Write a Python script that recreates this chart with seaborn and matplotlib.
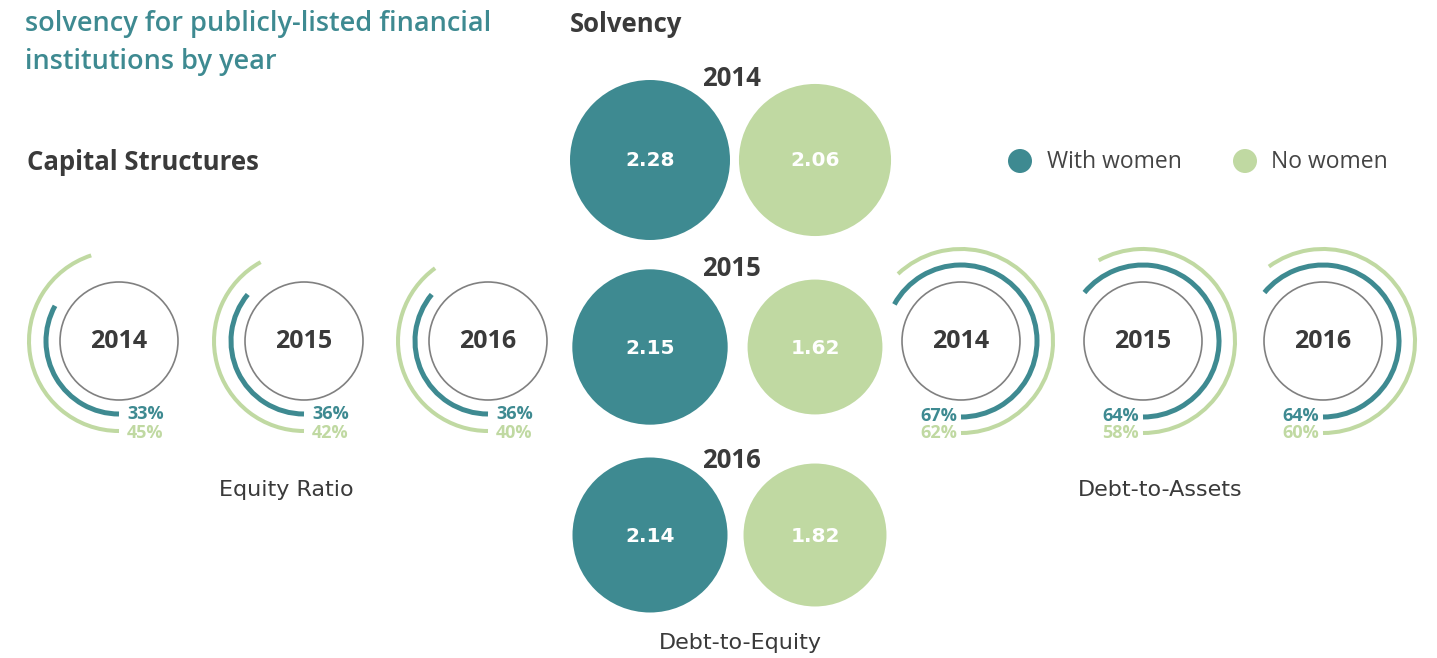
import numpy as np
import pandas as pd
import matplotlib
matplotlib.use("Agg")
import matplotlib.pyplot as plt
from matplotlib.patches import Arc, Circle
import seaborn as sns

# ---------------- data ----------------
years = ["2014", "2015", "2016"]
equity_with = [33, 36, 36]
equity_no = [45, 42, 40]
dta_with = [67, 64, 64]
dta_no = [62, 58, 60]
dte_with = [2.28, 2.15, 2.14]
dte_no = [2.06, 1.62, 1.82]
groups = ["With women", "No women"]

TEAL = "#3e8a91"
GREEN = "#c0d9a2"
DARK = "#3a3a3a"
GREY = "#808080"

sns.set_theme(style="white")
plt.rcParams["font.family"] = ["Open Sans", "DejaVu Sans"]
WIDE = ["DejaVu Sans"]

W, H = 1437, 658
fig = plt.figure(figsize=(W / 100, H / 100), dpi=100)
ax = fig.add_axes([0, 0, 1, 1])
ax.set_xlim(0, W)
ax.set_ylim(H, 0)
ax.axis("off")

# ---------------- titles ----------------
ax.text(25, 24, "solvency for publicly-listed financial", color=TEAL, fontsize=19.5,
        fontweight="semibold", va="center", ha="left")
ax.text(25, 62, "institutions by year", color=TEAL, fontsize=19.5,
        fontweight="semibold", va="center", ha="left")
ax.text(570, 24, "Solvency", color=DARK, fontsize=18.5, fontweight="bold", va="center")
ax.text(27, 163, "Capital Structures", color=DARK, fontsize=18.5, fontweight="bold", va="center")

# ---------------- legend ----------------
leg = pd.DataFrame({"x": [1020, 1245], "y": [161, 161], "g": groups})
sns.scatterplot(data=leg, x="x", y="y", hue="g", palette=[TEAL, GREEN], s=(24 * 0.72) ** 2,
                linewidth=0, legend=False, ax=ax, zorder=3)
ax.text(1047, 162, "With women", color="#444444", fontsize=16.5, va="center")
ax.text(1271, 162, "No women", color="#444444", fontsize=16.5, va="center")

# ---------------- rings ----------------
def ring(cx, cy, year, v_with, v_no, r_in, r_out, clockwise):
    ax.add_patch(Circle((cx, cy), 59, fill=False, edgecolor=GREY, lw=1.2))
    ax.text(cx, cy + 1, year, ha="center", va="center", color=DARK, fontsize=18, fontweight="bold")
    for v, r, col, lw in [(v_with, r_in, TEAL, 3.6), (v_no, r_out, GREEN, 2.9)]:
        span = 360 * v / 100
        # y axis is inverted: screen-clockwise equals increasing data angle
        if clockwise:
            t1, t2 = 90, 90 + span
        else:
            t1, t2 = 90 - span, 90
        ax.add_patch(Arc((cx, cy), 2 * r, 2 * r, theta1=t1, theta2=t2, color=col, lw=lw))
    if clockwise:
        ax.text(cx + 8, cy + r_in, f"{v_with}%", color=TEAL, fontsize=13, fontweight="bold",
                ha="left", va="center")
        ax.text(cx + 8, cy + r_out + 2, f"{v_no}%", color=GREEN, fontsize=13, fontweight="bold",
                ha="left", va="center")
    else:
        ax.text(cx - 4, cy + r_in - 1, f"{v_with}%", color=TEAL, fontsize=13, fontweight="bold",
                ha="right", va="center")
        ax.text(cx - 4, cy + r_out, f"{v_no}%", color=GREEN, fontsize=13, fontweight="bold",
                ha="right", va="center")

for cx, y, a, b in zip([119, 304, 488], years, equity_with, equity_no):
    ring(cx, 341, y, a, b, 73, 90, True)
for cx, y, a, b in zip([961, 1143, 1323], years, dta_with, dta_no):
    ring(cx, 341, y, a, b, 76, 92, False)

for txt, x, y in [("Equity Ratio", 286, 490), ("Debt-to-Assets", 1160, 490),
                  ("Debt-to-Equity", 740, 643)]:
    ax.text(x, y, txt, color=DARK, fontsize=16, ha="center", va="center", family=WIDE)

# ---------------- bubbles (area proportional to value) ----------------
rows_y = [160, 347, 535]
bub = pd.DataFrame({
    "x": [650] * 3 + [815] * 3,
    "y": rows_y * 2,
    "v": dte_with + dte_no,
    "g": [groups[0]] * 3 + [groups[1]] * 3,
})
r_max = 80.0
vmax = max(dte_with + dte_no)
# marker area in pt^2: diameter (px) * 0.72 squared
s_max = (2 * r_max * 0.72) ** 2
sns.scatterplot(data=bub, x="x", y="y", hue="g", palette=[TEAL, GREEN], size="v",
                sizes=(0, s_max), size_norm=(0, vmax), linewidth=0, legend=False, ax=ax)
for _, rw in bub.iterrows():
    ax.text(rw.x, rw.y + 1, f"{rw.v:.2f}", color="white", fontsize=14.5, fontweight="bold",
            ha="center", va="center", family=WIDE)
for yl, yr in zip(years, [78, 269, 460]):
    ax.text(731, yr, yl, color=DARK, fontsize=18.5, fontweight="bold", ha="center", va="center")

fig.savefig("out.png", dpi=100)
